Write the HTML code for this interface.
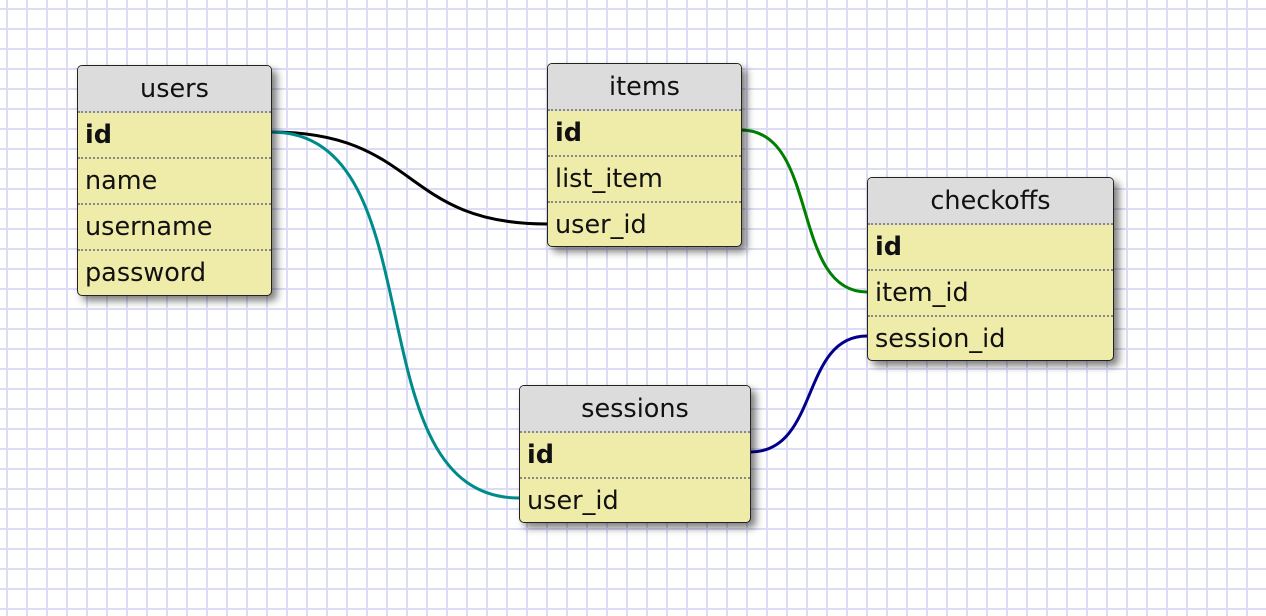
<!DOCTYPE html>
<html><head><style>
body{margin:0;width:1266px;height:616px;overflow:hidden;background:#fff;
background-image:linear-gradient(to right,#dcdcf6 2px,transparent 2px),linear-gradient(to bottom,#dcdcf6 2px,transparent 2px);
background-size:20px 20px;background-position:6px 8px;font-family:"DejaVu Sans","Liberation Sans",sans-serif;}
.t{position:absolute;border:1.5px solid #222;border-radius:5px;background:#efeba9;box-shadow:5px 5px 8px rgba(0,0,0,.5);overflow:hidden;box-sizing:border-box}
.h{background:#dcdcdc;height:45px;line-height:46px;text-align:center;font-size:25.5px;color:#111;border-bottom:2px dotted #888}
.r{height:44px;line-height:44px;padding-left:7px;font-size:25.5px;color:#111;border-bottom:2px dotted #888}
.r:last-child{border-bottom:none}
.b{font-weight:bold}
svg{position:absolute;left:0;top:0}
</style></head><body>
<svg width="1266" height="616">
<path d="M271,132 C420,132 400,224 547,224" stroke="#000" stroke-width="3" fill="none"/>
<path d="M271,132 C440,132 350,498 519,498" stroke="#008b8b" stroke-width="3" fill="none"/>
<path d="M741,130 C820,130 790,292 867,292" stroke="#008000" stroke-width="3" fill="none"/>
<path d="M750,452 C820,452 800,336 867,336" stroke="#00008b" stroke-width="3" fill="none"/>
</svg>
<div class="t" style="left:77px;top:65px;width:195px;height:231px">
<div class="h">users</div><div class="r b">id</div><div class="r">name</div><div class="r">username</div><div class="r">password</div></div>
<div class="t" style="left:547px;top:63px;width:195px;height:184px">
<div class="h">items</div><div class="r b">id</div><div class="r">list_item</div><div class="r">user_id</div></div>
<div class="t" style="left:867px;top:177px;width:247px;height:184px">
<div class="h">checkoffs</div><div class="r b">id</div><div class="r">item_id</div><div class="r">session_id</div></div>
<div class="t" style="left:519px;top:385px;width:232px;height:138px">
<div class="h">sessions</div><div class="r b">id</div><div class="r">user_id</div></div>
</body></html>
